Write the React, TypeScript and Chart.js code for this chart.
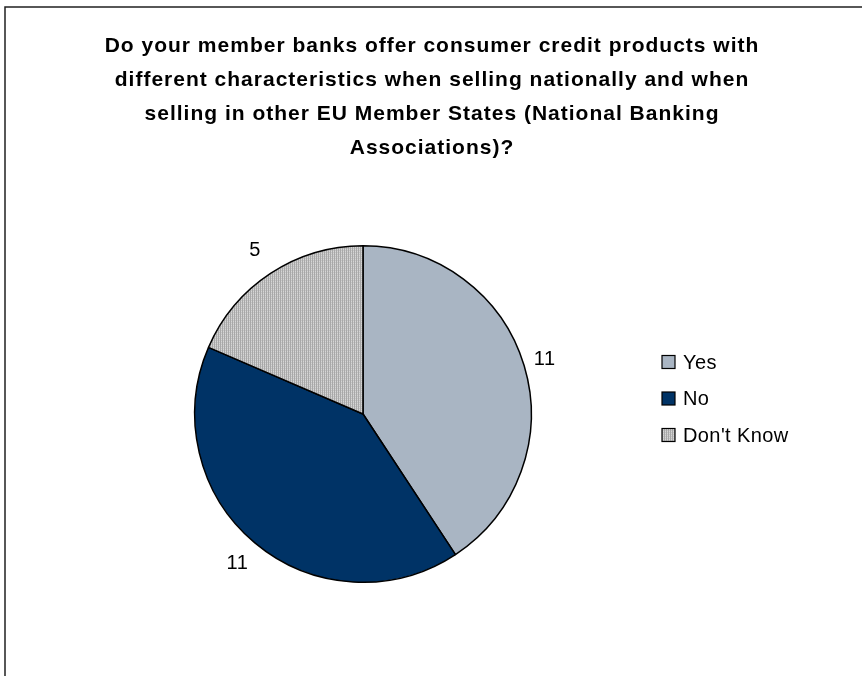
import React, { useEffect, useRef } from "react";
import { Chart, registerables } from "chart.js";

Chart.register(...registerables);

const categories = ["Yes", "No", "Don't Know"];
const values = [11, 11, 5];
const titleLines = [
  "Do your member banks offer consumer credit products with",
  "different characteristics when selling nationally and when",
  "selling in other EU Member States (National Banking",
  "Associations)?",
];

const FONT = '"Liberation Sans", Arial, sans-serif';

function makePattern(): CanvasPattern | string {
  const c = document.createElement("canvas");
  c.width = 2;
  c.height = 2;
  const x = c.getContext("2d");
  if (!x) return "#c0c0c0";
  x.fillStyle = "#d6d6d6";
  x.fillRect(0, 0, 2, 2);
  x.fillStyle = "#a8a8a8";
  x.fillRect(0, 0, 1, 2);
  x.fillStyle = "#c4c4c4";
  x.fillRect(1, 0, 1, 1);
  const p = x.createPattern(c, "repeat");
  return p || "#c0c0c0";
}

export default function App() {
  const ref = useRef<HTMLCanvasElement | null>(null);

  useEffect(() => {
    const canvas = ref.current;
    if (!canvas) return;
    const pattern = makePattern();
    const colors: any[] = ["#A9B5C3", "#003366", pattern];

    const framePlugin = {
      id: "frameAndText",
      beforeDraw(chart: any) {
        const ctx = chart.ctx;
        ctx.save();
        ctx.fillStyle = "#ffffff";
        ctx.fillRect(0, 0, chart.width, chart.height);
        ctx.strokeStyle = "#202020";
        ctx.lineWidth = 1.5;
        ctx.beginPath();
        ctx.moveTo(5, chart.height);
        ctx.lineTo(5, 7);
        ctx.lineTo(chart.width, 7);
        ctx.stroke();
        // title
        ctx.fillStyle = "#000";
        ctx.font = `bold 21px ${FONT}`;
        (ctx as any).letterSpacing = "1px";
        ctx.textAlign = "center";
        ctx.textBaseline = "middle";
        titleLines.forEach((t, i) => {
          ctx.fillText(t, 432, 46 + i * 34);
        });
        ctx.restore();
      },
      afterDatasetsDraw(chart: any) {
        const ctx = chart.ctx;
        const meta = chart.getDatasetMeta(0);
        ctx.save();
        ctx.fillStyle = "#000";
        ctx.font = `20px ${FONT}`;
        (ctx as any).letterSpacing = "0.5px";
        ctx.textAlign = "center";
        ctx.textBaseline = "middle";
        meta.data.forEach((arc: any, i: number) => {
          const p = arc.getProps(["startAngle", "endAngle", "x", "y", "outerRadius"], true);
          const mid = (p.startAngle + p.endAngle) / 2;
          const dy = Math.sin(mid);
          const d = p.outerRadius + 18 + 12 * Math.abs(dy);
          ctx.fillText(String(values[i]), p.x + Math.cos(mid) * d, p.y + dy * d);
        });
        // legend
        ctx.textAlign = "left";
        (ctx as any).letterSpacing = "0.4px";
        categories.forEach((c, i) => {
          const cy = 362 + i * 36.5;
          ctx.fillStyle = colors[i];
          ctx.fillRect(662, cy - 6.5, 13, 13);
          ctx.strokeStyle = "#000";
          ctx.lineWidth = 1.2;
          ctx.strokeRect(662, cy - 6.5, 13, 13);
          ctx.fillStyle = "#000";
          ctx.fillText(c, 683, cy + 1);
        });
        ctx.restore();
      },
    };

    const chart = new Chart(canvas, {
      type: "pie",
      data: {
        labels: categories,
        datasets: [
          {
            data: values,
            backgroundColor: colors,
            borderColor: "#000",
            borderWidth: 1.5,
            hoverOffset: 0,
            offset: 0,
          } as any,
        ],
      },
      options: {
        responsive: false,
        animation: false,
        devicePixelRatio: 1,
        layout: { padding: { left: 194, right: 330, top: 245, bottom: 93 } },
        plugins: {
          legend: { display: false },
          title: { display: false },
          tooltip: { enabled: false },
        },
        events: [],
      },
      plugins: [framePlugin],
    });
    return () => chart.destroy();
  }, []);

  return (
    <div style={{ position: "absolute", left: 0, top: 0, width: 862, height: 676 }}>
      <canvas ref={ref} width={862} height={676} style={{ display: "block" }} />
    </div>
  );
}
